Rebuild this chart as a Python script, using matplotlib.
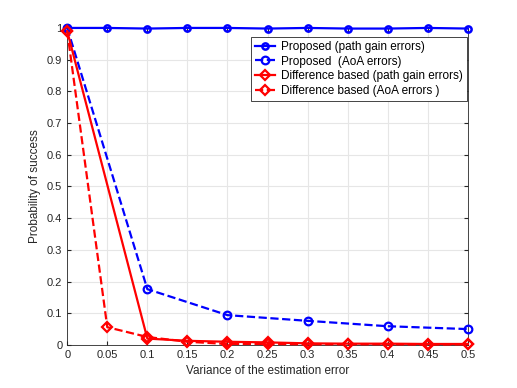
import matplotlib
matplotlib.use('Agg')
import matplotlib.pyplot as plt
import numpy as np

plt.rcParams['font.family'] = ['Liberation Sans', 'DejaVu Sans']
plt.rcParams['font.size'] = 8

# data
x_all = [0, 0.05, 0.1, 0.15, 0.2, 0.25, 0.3, 0.35, 0.4, 0.45, 0.5]
prop_gain = [1.0, 1.0, 0.998, 1.0, 1.0, 0.998, 1.0, 0.998, 0.998, 1.0, 0.998]

x_aoa = [0, 0.1, 0.2, 0.3, 0.4, 0.5]
prop_aoa = [1.0, 0.176, 0.094, 0.076, 0.059, 0.05]

x_diff_gain = [0, 0.1, 0.15, 0.2, 0.25, 0.3, 0.35, 0.4, 0.45, 0.5]
diff_gain = [0.99, 0.02, 0.013, 0.01, 0.008, 0.005, 0.004, 0.004, 0.003, 0.003]

diff_aoa = [0.99, 0.056, 0.025, 0.01, 0.003, 0.003, 0.002, 0.002, 0.002, 0.001, 0.002]

labels = ['Proposed (path gain errors)', 'Proposed  (AoA errors)',
          'Difference based (path gain errors)', 'Difference based (AoA errors )']

fig = plt.figure(figsize=(5.17, 3.88), dpi=100)
ax = fig.add_axes([0.130, 0.111, 0.775, 0.817])

ax.plot(x_all, prop_gain, '-o', color='b', lw=1.6, ms=4.5, mfc='none', mew=1.8,
        label=labels[0], clip_on=False, zorder=4)
ax.plot(x_aoa, prop_aoa, '--o', color='b', lw=1.6, ms=5.5, mfc='none', mew=1.6,
        label=labels[1], clip_on=False, zorder=4)
ax.plot(x_diff_gain, diff_gain, '-D', color='r', lw=1.6, ms=5, mfc='none', mew=1.6,
        label=labels[2], clip_on=False, zorder=4)
ax.plot(x_all, diff_aoa, '--D', color='r', lw=1.6, ms=5, mfc='none', mew=1.6,
        label=labels[3], clip_on=False, zorder=4)

ax.set_xlim(0, 0.5)
ax.set_ylim(0, 1)
ax.set_xticks(np.arange(0, 0.51, 0.05))
ax.set_xticklabels(['0', '0.05', '0.1', '0.15', '0.2', '0.25', '0.3', '0.35', '0.4', '0.45', '0.5'])
ax.set_yticks(np.arange(0, 1.01, 0.1))
ax.set_yticklabels(['0', '0.1', '0.2', '0.3', '0.4', '0.5', '0.6', '0.7', '0.8', '0.9', '1'])

ax.grid(True, color='#e6e6e6', lw=0.8)
ax.set_axisbelow(True)
ax.tick_params(direction='in', length=3, colors='#262626', top=True, right=True, labelsize=8)
for s in ax.spines.values():
    s.set_color('#262626')
    s.set_linewidth(0.6)

ax.set_xlabel('Variance of the estimation error', color='#262626', fontsize=8.5)
ax.set_ylabel('Probability of success', color='#262626', fontsize=8.5)

leg = ax.legend(loc='upper right', bbox_to_anchor=(0.998, 0.972), borderaxespad=0,
                fontsize=8.5, handlelength=1.7,
                borderpad=0.35, labelspacing=0.22, handletextpad=0.5, fancybox=False, framealpha=1)
leg.get_frame().set_edgecolor('#262626')
leg.get_frame().set_linewidth(0.6)
leg.set_zorder(5)

fig.savefig('out.png', dpi=100)
